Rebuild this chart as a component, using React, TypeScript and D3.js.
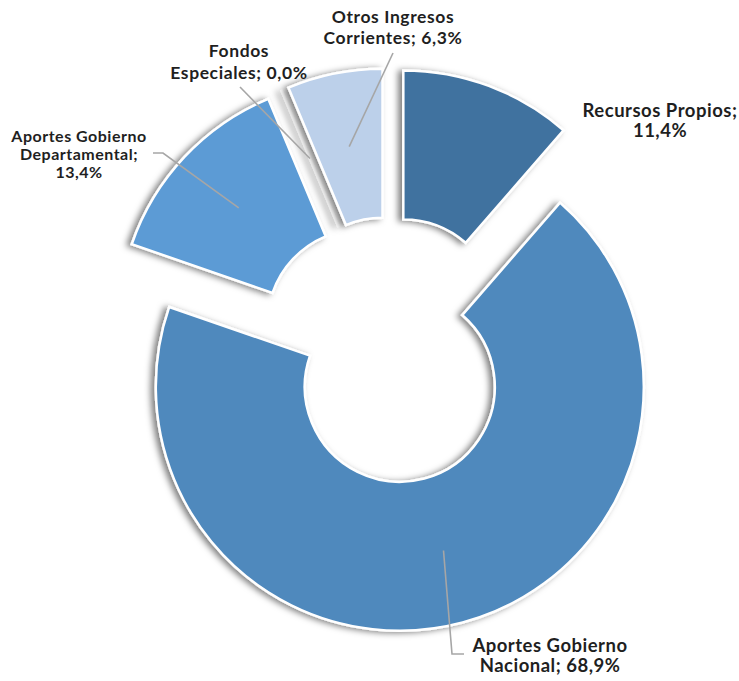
import React from "react";
import * as d3 from "d3";

const categories = [
  "Recursos Propios",
  "Aportes Gobierno Nacional",
  "Aportes Gobierno Departamental",
  "Fondos Especiales",
  "Otros Ingresos Corrientes",
];
const values = [11.4, 68.9, 13.4, 0.0, 6.3];
const sliceColors = ["#41729F", "#4F89BD", "#5B9BD5", "#5B9BD5", "#BCD0EA"];
const labelLines = [
  ["Recursos Propios;", "11,4%"],
  ["Aportes Gobierno", "Nacional; 68,9%"],
  ["Aportes Gobierno", "Departamental;", "13,4%"],
  ["Fondos", "Especiales; 0,0%"],
  ["Otros Ingresos", "Corrientes; 6,3%"],
];

// layout
const W = 739;
const H = 681;
const CX = 390;
const CY = 350;
const R_OUT = 244;
const R_IN = 95;
const EXPLODE = 38;

type Layout = {
  x: number;
  y: number;
  lh: number;
  fs: number;
  ls: number;
  leader: [number, number][] | null;
};
const labelLayout: Layout[] = [
  { x: 660, y: 117, lh: 20, fs: 18.5, ls: 0.5, leader: null },
  { x: 550, y: 652, lh: 20, fs: 18.5, ls: 0.5, leader: [[452, 654], [464, 654]] },
  { x: 79, y: 142, lh: 18, fs: 16, ls: 0.5, leader: [[163, 153], [153, 153]] },
  { x: 239, y: 57, lh: 22, fs: 17.5, ls: 0.6, leader: [[240, 87]] },
  { x: 393, y: 23, lh: 21, fs: 17.5, ls: 0.6, leader: [[393, 53]] },
];

export default function App() {
  const pie = d3
    .pie<number>()
    .sort(null)
    .value((d) => d)
    .startAngle(0)
    .endAngle(2 * Math.PI);
  const arcs = pie(values);
  const arc = d3.arc<d3.PieArcDatum<number>>().innerRadius(R_IN).outerRadius(R_OUT);

  const items = arcs.map((a, i) => {
    const mid = (a.startAngle + a.endAngle) / 2;
    const ox = CX + EXPLODE * Math.sin(mid);
    const oy = CY - EXPLODE * Math.cos(mid);
    const [cx, cy] = arc.centroid(a);
    return { a, i, ox, oy, centroid: [ox + cx, oy + cy] as [number, number] };
  });

  const line = d3.line();

  return (
    <svg
      width={W}
      height={H}
      style={{ position: "absolute", left: 0, top: 0, background: "#fff" }}
      fontFamily="Lato, 'Noto Sans', sans-serif"
    >
      <defs>
        <filter id="shadow" x="-20%" y="-20%" width="140%" height="140%">
          <feDropShadow dx={-4} dy={1} stdDeviation={3} floodColor="#000" floodOpacity={0.5} />
        </filter>
      </defs>
      <rect width={W} height={H} fill="#fff" />
      {items.map(({ a, i, ox, oy }) => (
        <path
          key={categories[i]}
          d={arc(a) || ""}
          transform={`translate(${ox},${oy})`}
          fill={sliceColors[i]}
          stroke="#fff"
          strokeWidth={2.5}
          strokeLinejoin="miter"
          filter="url(#shadow)"
        />
      ))}
      {items.map(({ i, centroid }) => {
        const lay = labelLayout[i];
        if (!lay.leader) return null;
        const pts: [number, number][] = [centroid, ...lay.leader];
        return (
          <path
            key={"l" + i}
            d={line(pts) || ""}
            fill="none"
            stroke="#A6A6A6"
            strokeWidth={1.6}
          />
        );
      })}
      {labelLines.map((lines, i) => {
        const lay = labelLayout[i];
        return (
          <text
            key={"t" + i}
            textAnchor="middle"
            fontSize={lay.fs}
            fontWeight="bold"
            letterSpacing={lay.ls}
            fill="#1F1F1F"
          >
            {lines.map((s, j) => (
              <tspan key={j} x={lay.x} y={lay.y + j * lay.lh}>
                {s}
              </tspan>
            ))}
          </text>
        );
      })}
    </svg>
  );
}
